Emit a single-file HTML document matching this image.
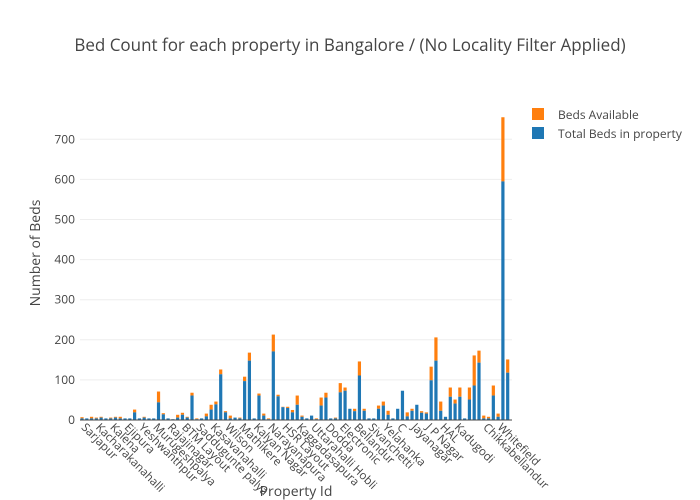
<!DOCTYPE html>
<html><head><meta charset="utf-8"><style>
body{margin:0;background:#fff;}
svg{display:block;font-family:"Open Sans","Liberation Sans",sans-serif;}
</style></head><body>
<svg id="s" width="700" height="500" xmlns="http://www.w3.org/2000/svg">
<rect width="700" height="500" fill="#fff"/>
<text x="350" y="51" text-anchor="middle" font-size="17" fill="#444">Bed Count for each property in Bangalore / (No Locality Filter Applied)</text>
<g id="grid"></g>
<g id="bars"></g>
<g id="labels"></g>
<text transform="translate(40,253) rotate(-90)" text-anchor="middle" font-size="14" fill="#444">Number of Beds</text>
<text x="296" y="496" text-anchor="middle" font-size="14" fill="#444">Property Id</text>
<rect x="532" y="108" width="12" height="12" fill="#ff7f0e"/>
<text x="558" y="119" font-size="12" fill="#444">Beds Available</text>
<rect x="532" y="127" width="12" height="12" fill="#1f77b4"/>
<text x="558" y="138" font-size="12" fill="#444">Total Beds in property</text>
</svg>
<script>
var NS="http://www.w3.org/2000/svg";
function el(t,a,p,txt){var e=document.createElementNS(NS,t);for(var k in a)e.setAttribute(k,a[k]);if(txt!==undefined)e.textContent=txt;document.getElementById(p).appendChild(e);return e;}
var y0=420,sc=0.401;
for(var v=0;v<=700;v+=100){var y=y0-v*sc;
 el('line',{x1:80,x2:512,y1:y,y2:y,stroke:v==0?'#444':'#eee','stroke-width':1},'grid');
 el('text',{x:75,y:y+4,'text-anchor':'end','font-size':12,fill:'#444'},'grid',v);}
var d=[[4,7],[4,4],[4,8],[4,6],[6,8],[4,4],[4,6],[6,8],[4,8],[4,4],[4,4],[19,26],[4,4],[6,8],[4,4],[4,4],[44,71],[14,17],[4,4],[2,2],[6,13],[13,18],[6,8],[61,68],[2,4],[4,4],[9,16],[26,38],[39,46],[114,126],[19,22],[4,11],[6,6],[4,6],[97,108],[148,168],[4,4],[61,66],[11,16],[2,4],[171,213],[59,63],[32,33],[30,33],[19,25],[38,61],[8,11],[4,4],[11,11],[2,4],[36,56],[56,68],[4,4],[4,6],[69,92],[73,81],[28,28],[22,28],[111,146],[23,28],[4,4],[4,4],[28,36],[36,46],[13,23],[4,4],[28,28],[73,73],[9,19],[23,28],[38,38],[18,22],[16,19],[99,133],[148,206],[23,46],[8,8],[58,81],[41,51],[58,81],[4,4],[51,81],[86,161],[143,173],[4,11],[4,8],[61,86],[8,16],[595,755],[118,151]];
var x0=82,dx=4.783;
d.forEach(function(b,i){var cx=x0+i*dx;
 el('rect',{x:cx-1.6,y:y0-b[1]*sc,width:3.2,height:(b[1]-b[0])*sc,fill:'#ff7f0e'},'bars');
 el('rect',{x:cx-1.6,y:y0-b[0]*sc,width:3.2,height:b[0]*sc,fill:'#1f77b4'},'bars');});
el('line',{x1:80,x2:512,y1:y0,y2:y0,stroke:'#444','stroke-width':1},'bars');
var L=["Sarjapur","Kacharakanahalli","Kalena","Ejipura","Yeshwanthpur","Murugeshpalya","Rajajinagar","BTM Layout","Saddugunte palya","Kasavanahalli","Wilson","Mathikere","Kalyan Nagar","Narayanapura","HSR Layout","Kaggadasapura","Uttarahalli Hobli","Dodda","Electronic","Bellandur","Sivanchetti","Yelahanka","C","Jayanagar","J P Nagar","HAL","Kadugodi","","Chikkabellandur","Whitefield"];
L.forEach(function(n,k){var i=1+3*k;var cx=x0+i*dx-6;
 el('text',{transform:'translate('+cx+',428) rotate(45)','font-size':11.5,fill:'#444'},'labels',n);});
</script>
</body></html>
